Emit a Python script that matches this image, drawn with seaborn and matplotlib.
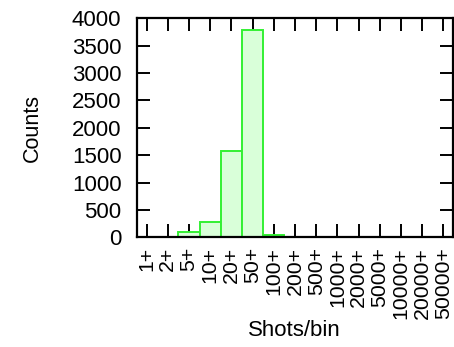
import matplotlib
matplotlib.use("Agg")
import matplotlib.pyplot as plt
import seaborn as sns
import pandas as pd

# Histogram of shots per bin
bins = ["1+", "2+", "5+", "10+", "20+", "50+", "100+", "200+", "500+",
        "1000+", "2000+", "5000+", "10000+", "20000+", "50000+"]
counts = [0, 0, 100, 272, 1576, 3780, 50, 0, 0, 0, 0, 0, 0, 0, 0]
yticks = [0, 500, 1000, 1500, 2000, 2500, 3000, 3500, 4000]

sns.set_theme(style="ticks")
plt.rcParams["font.family"] = ["Liberation Sans", "DejaVu Sans"]
plt.rcParams["text.color"] = "black"
plt.rcParams["xtick.color"] = "black"
plt.rcParams["ytick.color"] = "black"
plt.rcParams["axes.labelcolor"] = "black"

df = pd.DataFrame({"bin": bins, "count": counts})

fig = plt.figure(figsize=(4.54, 3.47), dpi=100)
ax = fig.add_axes([136.7 / 454, 1 - 237.3 / 347,
                   (452.7 - 136.7) / 454, (237.3 - 18.3) / 347])

sns.barplot(data=df, x="bin", y="count", order=bins, width=1.0,
            color="#d9ffd9", edgecolor="#33f033", linewidth=1.4,
            saturation=1, ax=ax, zorder=2)

ax.set_axisbelow(True)
ax.set_xlim(-0.47, 14.44)
ax.set_ylim(0, 4000)
ax.set_yticks(yticks)
ax.set_yticklabels([str(v) for v in yticks])

for s in ax.spines.values():
    s.set_visible(True)
    s.set_linewidth(1.6)
    s.set_color("black")

ax.tick_params(axis="both", which="major", direction="in", length=9.5,
               width=1.4, top=True, right=True)
ax.tick_params(axis="x", pad=7, labelrotation=90, labelsize=15.3)
ax.tick_params(axis="y", pad=11, labelsize=16)
for lbl in ax.get_xticklabels():
    lbl.set_ha("center")
    lbl.set_va("top")

ax.set_xlabel("Shots/bin", fontsize=16, labelpad=1)
ax.set_ylabel("Counts", fontsize=15.5, labelpad=21)

fig.savefig("out.png", dpi=100)
